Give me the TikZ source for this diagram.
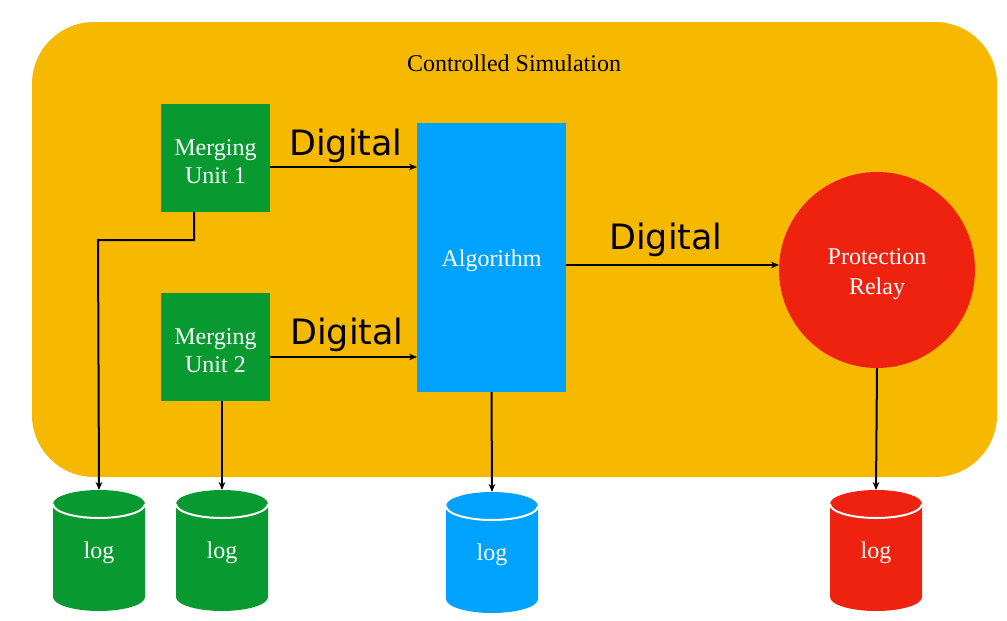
\documentclass[tikz,border=0pt]{standalone}
\usepackage{fontspec}
\setmainfont{Liberation Serif}
\newfontfamily\digfont{DejaVu Sans}
\usetikzlibrary{arrows.meta}
\definecolor{simorange}{HTML}{F6B900}
\definecolor{mugreen}{HTML}{089930}
\definecolor{algblue}{HTML}{00A2FF}
\definecolor{relred}{HTML}{EE220F}
\tikzset{
  lbl/.style={font=\fontsize{18}{21}\selectfont, text=white, align=center, inner sep=0pt},
  dig/.style={font=\digfont\fontsize{26.2}{28}\selectfont, inner sep=0pt},
  conn/.style={line width=1.5pt, -{Stealth[length=6pt,width=5pt]}},
  box/.style={inner sep=0pt, outer sep=0pt},
}
\newcommand{\logcyl}[3]{% name, cx, colour
  \fill[#3] (#2-46,504) -- (#2-46,597) arc[start angle=180,end angle=0,x radius=46,y radius=14] -- (#2+46,504) -- cycle;
  \fill[#3] (#2,504) ellipse[x radius=46,y radius=14];
  \draw[white, line width=1.5pt] (#2-46,504) arc[start angle=180,end angle=0,x radius=46,y radius=14];
  \coordinate (#1) at (#2,490);
  \node[lbl] (#1txt) at (#2,553) {log};
}
\begin{document}
\begin{tikzpicture}[x=0.75pt,y=-0.75pt]
\useasboundingbox (0,0) rectangle (1007,621);
\fill[simorange, rounded corners=62pt*0.75] (32,22) rectangle (997,477);
\node[font=\fontsize{18}{21}\selectfont] (title) at (514,63) {Controlled Simulation};
\fill[mugreen] (161,104) rectangle (270,212);
\node[box, minimum width=109*0.75pt, minimum height=108*0.75pt] (mu1) at (215.5,158) {};
\node[lbl] at (215.5,162) {Merging\\Unit 1};
\fill[mugreen] (161,293) rectangle (270,401);
\node[box, minimum width=109*0.75pt, minimum height=108*0.75pt] (mu2) at (215.5,347) {};
\node[lbl] at (215.5,351) {Merging\\Unit 2};
\fill[algblue] (417,123) rectangle (566,392);
\node[box, minimum width=149*0.75pt, minimum height=269*0.75pt] (alg) at (491.5,257.5) {};
\node[lbl] at (491.5,261) {Algorithm};
\fill[relred] (877,270) circle[radius=98];
\node[box, circle, minimum size=196*0.75pt] (relay) at (877,270) {};
\node[lbl, font=\fontsize{18}{22}\selectfont] at (877,274) {Protection\\Relay};
\node[dig] (d1) at (346,146) {Digital};
\node[dig] (d2) at (347,335) {Digital};
\node[dig] (d3) at (666,240) {Digital};
\logcyl{log1}{99}{mugreen}
\logcyl{log2}{222}{mugreen}
\logcyl{log4}{876}{relred}
\begin{scope}[yshift=-2*0.75pt]
\logcyl{log3}{492}{algblue}
\end{scope}
\draw[conn] (mu1.east |- 0,167) -- (alg.west |- 0,167);
\draw[conn] (mu2.east |- 0,357) -- (alg.west |- 0,357);
\draw[conn] (alg.east |- 0,265) -- (relay.west |- 0,265);
\draw[conn] (194,212) -- (194,240) -- (98,240) -- (log1);
\draw[conn] (mu2.south -| 222,0) -- (log2);
\draw[conn] (alg.south) -- (log3);
\draw[conn] (relay.south) -- (log4);
\end{tikzpicture}
\end{document}
